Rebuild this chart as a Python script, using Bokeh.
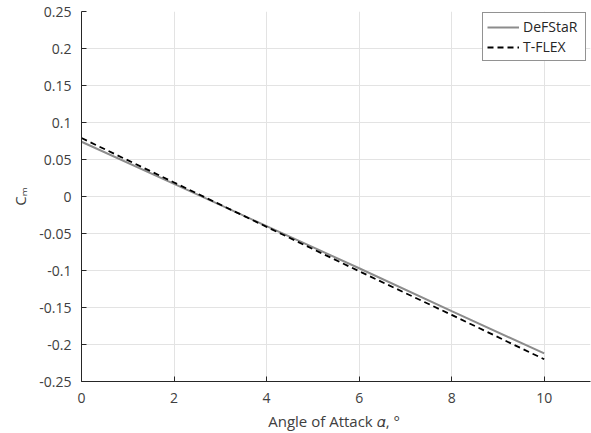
from bokeh.plotting import figure
from bokeh.models import FixedTicker, Range1d, Legend, LegendItem
from bokeh.embed import file_html
from bokeh.resources import INLINE

alpha = [0, 2, 4, 6, 8, 10]
defstar = [0.074, 0.017, -0.040, -0.097, -0.155, -0.212]
tflex = [0.079, 0.019, -0.041, -0.101, -0.160, -0.220]
x_ticks = [0, 2, 4, 6, 8, 10]
y_ticks = [-0.25, -0.2, -0.15, -0.1, -0.05, 0, 0.05, 0.1, 0.15, 0.2, 0.25]
y_tick_labels = ["-0.25", "-0.2", "-0.15", "-0.1", "-0.05", "0", "0.05", "0.1", "0.15", "0.2", "0.25"]
x_label = "Angle of Attack  \U0001D6FC, \u00b0"
y_label = "C\u2098"

FONT = "Open Sans"
AX = "#262626"
TXT = "#404040"

p = figure(width=591, height=433, output_backend="svg", toolbar_location=None,
           x_range=Range1d(0, 11), y_range=Range1d(-0.25, 0.25),
           min_border_left=81, min_border_right=1, min_border_top=11, min_border_bottom=52)
p.outline_line_color = None
p.background_fill_color = "white"

for ax in (p.xaxis[0], p.yaxis[0]):
    ax.axis_line_color = AX
    ax.axis_line_width = 1
    ax.major_tick_line_color = AX
    ax.major_tick_in = 5
    ax.major_tick_out = 0
    ax.minor_tick_line_color = None
    ax.major_label_text_font = FONT
    ax.major_label_text_font_size = "14px"
    ax.major_label_text_color = TXT
    ax.axis_label_text_font = FONT
    ax.axis_label_text_font_style = "normal"
    ax.axis_label_text_font_size = "15px"
    ax.axis_label_text_color = TXT

p.xaxis[0].ticker = FixedTicker(ticks=x_ticks)
p.yaxis[0].ticker = FixedTicker(ticks=y_ticks)
p.yaxis[0].major_label_overrides = {t: l for t, l in zip(y_ticks, y_tick_labels)}
p.xaxis[0].major_label_standoff = 11
p.yaxis[0].major_label_standoff = 10
p.xaxis[0].axis_label = x_label
p.yaxis[0].axis_label = y_label
p.xaxis[0].axis_label_standoff = 5
p.yaxis[0].axis_label_standoff = 6

p.xgrid.ticker = FixedTicker(ticks=x_ticks + [11])
p.ygrid.ticker = FixedTicker(ticks=y_ticks)
p.xgrid.grid_line_color = "#e3e3e3"
p.ygrid.grid_line_color = "#e3e3e3"

r1 = p.line(alpha, defstar, line_color="#8c8c8c", line_width=2)
r2 = p.line(alpha, tflex, line_color="black", line_width=1.8, line_dash="6 4")

legend = Legend(items=[LegendItem(label="DeFStaR", renderers=[r1]),
                       LegendItem(label="T-FLEX", renderers=[r2])],
                location=(401, 320))
legend.label_text_font = FONT
legend.label_text_font_size = "14px"
legend.label_text_color = AX
legend.border_line_color = AX
legend.border_line_width = 0.8
legend.glyph_width = 32
legend.glyph_height = 18
legend.label_height = 18
legend.label_width = 58
legend.spacing = 1
legend.padding = 4
legend.margin = 0
legend.label_standoff = 4
legend.background_fill_alpha = 1
p.add_layout(legend, "center")

open("out.html", "w").write(file_html(p, INLINE))
